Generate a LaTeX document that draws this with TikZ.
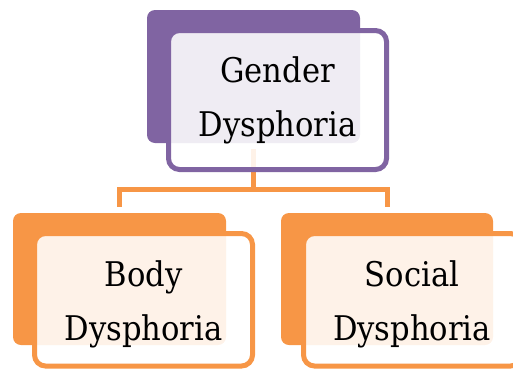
\documentclass[tikz,border=0pt]{standalone}
\usepackage{fontspec}
\newfontfamily\boxfont{DejaVu Serif Condensed}
\usetikzlibrary{calc}
\definecolor{plum}{HTML}{8064A2}
\definecolor{tangerine}{HTML}{F79646}
\begin{document}
\begin{tikzpicture}[x=1pt,y=-1pt,
  backbox/.style={rectangle,inner sep=0pt,rounded corners=8pt,draw=none},
  frontbox/.style={rectangle,inner sep=0pt,rounded corners=11pt,line width=5pt,
    fill=white,fill opacity=0.88},
  label/.style={align=center,inner sep=0pt,text opacity=1,
    font=\boxfont\fontsize{34}{54}\selectfont},
  conn/.style={draw=tangerine,line width=5pt,line join=miter}]
\useasboundingbox (0,0) rectangle (513,370);
\clip (0,0) rectangle (513,370);
% background plates
\node[backbox,fill=plum,minimum width=213pt,minimum height=133pt] (gback) at (253.5,76.5) {};
\node[backbox,fill=tangerine,minimum width=213pt,minimum height=132pt] (bback) at (119.5,279) {};
\node[backbox,fill=tangerine,minimum width=212pt,minimum height=132pt] (sback) at (387,279) {};
% tree connectors
\coordinate (split) at (253.5,189.5);
\draw[conn] ([yshift=-6pt]gback.south) -- (split);
\draw[conn] ([yshift=6pt]bback.north) |- (split) -| ([yshift=6pt]sback.north);
% framed boxes
\node[frontbox,draw=plum,minimum width=218pt,minimum height=139pt] (gbox) at (277.5,100) {};
\node[frontbox,draw=tangerine,minimum width=218pt,minimum height=132.5pt] (bbox) at (143.5,299.75) {};
\node[frontbox,draw=tangerine,minimum width=218pt,minimum height=132.5pt] (sbox) at (412.5,299.75) {};
% labels
\node[label] (gtext) at (277.5,100.8) {Gender\\Dysphoria};
\node[label] (btext) at (143.5,304.3) {Body\\Dysphoria};
\node[label] (stext) at (412,304.3) {Social\\Dysphoria};
\end{tikzpicture}
\end{document}
